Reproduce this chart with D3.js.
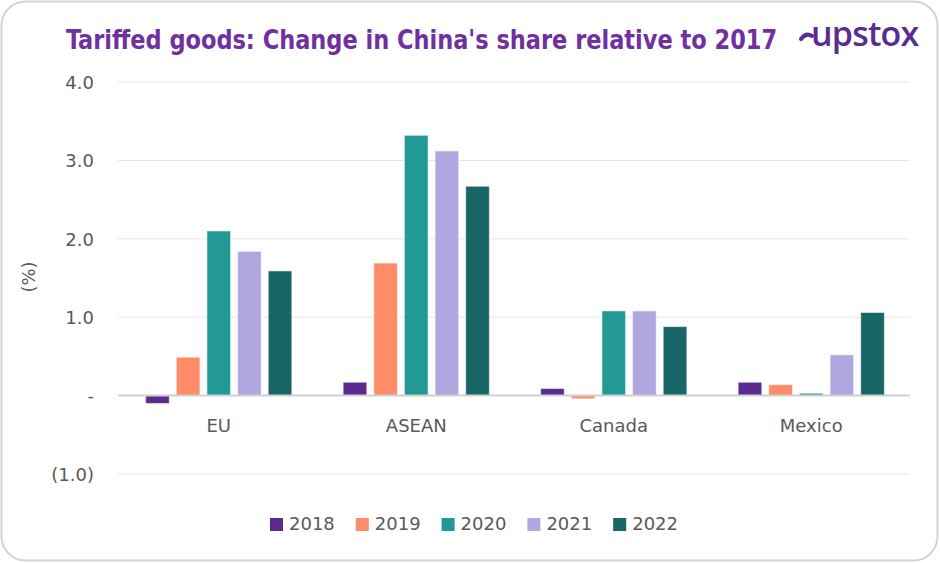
<!DOCTYPE html>
<html><head><meta charset="utf-8">
<script src="https://cdn.jsdelivr.net/npm/d3@7/dist/d3.min.js"></script>
<style>
html,body{margin:0;padding:0;background:#fff;}
svg{display:block;}
</style></head>
<body>
<svg id="chart" width="940" height="563"></svg>
<script>
const categories = ["EU", "ASEAN", "Canada", "Mexico"];
const years = ["2018", "2019", "2020", "2021", "2022"];
const v2018 = [-0.10, 0.17, 0.09, 0.17];
const v2019 = [0.49, 1.69, -0.04, 0.14];
const v2020 = [2.10, 3.32, 1.08, 0.03];
const v2021 = [1.84, 3.12, 1.08, 0.52];
const v2022 = [1.59, 2.67, 0.88, 1.06];
const yTicks = [-1, 0, 1, 2, 3, 4];
const colors = ["#5b2a8e", "#ff8c69", "#239996", "#b0a7e0", "#186766"];
const seriesValues = [v2018, v2019, v2020, v2021, v2022];

const svg = d3.select("#chart");
const W = 940, H = 563;
const FONT = "'DejaVu Sans',sans-serif";

// card
svg.append("rect").attr("x", 1.5).attr("y", 1.5).attr("width", W - 4).attr("height", H - 4)
  .attr("rx", 24).attr("fill", "#fff").attr("stroke", "#d4d4d4").attr("stroke-width", 2);

// title
svg.append("text").attr("transform", "translate(66,49) scale(1,1.08)")
  .attr("font-family", "'DejaVu Sans Condensed','DejaVu Sans',sans-serif")
  .attr("font-stretch", "condensed")
  .attr("font-weight", "bold").attr("font-size", 25).attr("fill", "#7030a0")
  .text("Tariffed goods: Change in China's share relative to 2017");

// logo
const logo = svg.append("g");
logo.append("path").attr("d", "M801,39 q5,-7 11,-3").attr("fill", "none")
  .attr("stroke", "#5a2d91").attr("stroke-width", 4).attr("stroke-linecap", "round");
logo.append("text").attr("x", 811).attr("y", 46)
  .attr("font-family", "'Open Sans','Inter',sans-serif").attr("font-weight", 600)
  .attr("font-size", 34).attr("fill", "#5a2d91").attr("letter-spacing", -0.8)
  .text("upstox");

const x0 = 120, x1 = 910;
const y = d3.scaleLinear().domain([-1, 4]).range([474, 82]);
const xb = d3.scaleBand().domain(categories).range([x0, x1]).paddingInner(0.26).paddingOuter(0.13);
const xs = d3.scaleBand().domain(years).range([0, xb.bandwidth()]).paddingInner(0.23);

// gridlines
svg.append("g").selectAll("line").data(yTicks.filter(d => d !== 0)).join("line")
  .attr("x1", 118).attr("x2", x1).attr("y1", d => y(d)).attr("y2", d => y(d))
  .attr("stroke", "#e6e6e6").attr("stroke-width", 1);

// y axis labels
const fmt = d => d === 0 ? "-" : d < 0 ? "(" + Math.abs(d).toFixed(1) + ")" : d.toFixed(1);
const yAxis = d3.axisLeft(y).tickValues(yTicks).tickFormat(fmt).tickSize(0).tickPadding(0);
const ya = svg.append("g").attr("transform", "translate(94,0)").call(yAxis);
ya.select(".domain").remove();
ya.selectAll("text").attr("font-family", FONT).attr("font-size", 18)
  .attr("fill", "#595959").attr("dy", "0.35em");

// y title
svg.append("text").attr("transform", "translate(29,277) rotate(-90)").attr("text-anchor", "middle")
  .attr("dy", "0.35em")
  .attr("font-family", FONT).attr("font-size", 18).attr("fill", "#595959").text("(%)");

// bars
const groups = svg.append("g").selectAll("g").data(years).join("g");
groups.each(function(yr, si) {
  d3.select(this).selectAll("rect").data(categories.map((c, ci) => ({c, v: seriesValues[si][ci]}))).join("rect")
    .attr("x", d => xb(d.c) + xs(yr))
    .attr("width", xs.bandwidth())
    .attr("y", d => y(Math.max(0, d.v)))
    .attr("height", d => Math.abs(y(d.v) - y(0)))
    .attr("fill", colors[si])
    .attr("stroke", "#ffffff").attr("stroke-opacity", 0.5).attr("stroke-width", 1);
});

// zero line
svg.append("line").attr("x1", 118).attr("x2", x1).attr("y1", y(0)).attr("y2", y(0))
  .attr("stroke", "#d0d0d0").attr("stroke-width", 2);

// x axis labels
const xAxis = d3.axisBottom(xb).tickSize(0).tickPadding(0);
const xa = svg.append("g").attr("transform", "translate(0,426)").call(xAxis);
xa.select(".domain").remove();
xa.selectAll("text").attr("font-family", FONT).attr("font-size", 18)
  .attr("fill", "#595959").attr("dy", "0.35em");

// legend
const lg = svg.append("g").selectAll("g").data(years).join("g")
  .attr("transform", (d, i) => `translate(${270 + i * 85.8},524)`);
lg.append("rect").attr("x", 0).attr("y", -6).attr("width", 13).attr("height", 13)
  .attr("fill", (d, i) => colors[i]);
lg.append("text").attr("x", 19).attr("y", 0).attr("dy", "0.35em")
  .attr("font-family", FONT).attr("font-size", 18).attr("fill", "#595959")
  .text(d => d);
</script>
</body></html>
